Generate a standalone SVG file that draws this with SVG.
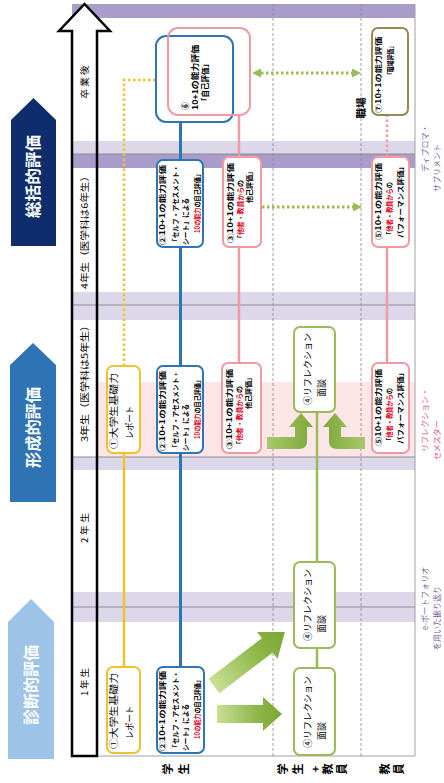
<svg xmlns="http://www.w3.org/2000/svg" width="444" height="783" viewBox="0 0 444 783">
<defs>
<style>
text{font-family:"Noto Sans CJK JP","Noto Sans",sans-serif;fill:#000}
.nb{font-size:7px;font-weight:700}
.n1{font-size:9px}
.n4{font-size:9px}
.n6{font-size:8px;font-weight:700}
.red{fill:#e3001b}
.yr{font-size:9.5px}
.big{font-size:16px;font-weight:700;fill:#fff}
.row{font-size:11px;font-weight:700;text-anchor:middle}
.side{font-size:8px}
.pu{fill:#8064a2}
.pk{fill:#e8528e}
.box{fill:#fff;stroke-width:2}
.by{stroke:#f2c12e}.bb{stroke:#2e75b6}.bp{stroke:#f29aa3}.bg{stroke:#9bbb59}.bo{stroke:#948a54}
.ly{stroke:#f2c12e;stroke-width:2.5;fill:none}
.lb{stroke:#2e75b6;stroke-width:3;fill:none}
.lp{stroke:#f29aa3;stroke-width:2.5;fill:none}
.lg{stroke:#9bbb59;stroke-width:2.5;fill:none}
.dot{stroke-dasharray:2.5 2.5}
.gd{stroke:#9bbb59;stroke-width:3;stroke-dasharray:2.5 2.5;fill:none;marker-start:url(#gh);marker-end:url(#gh)}
.sep{stroke:#888;stroke-width:0.8;stroke-dasharray:3 2;fill:none}
.bl{stroke:#8c8c8c;stroke-width:1}
.lav{fill:#dcd8ea}.pur{fill:#a99bca}.pnk{fill:#fde6e8}
</style>
<marker id="gh" viewBox="0 0 10 10" refX="0" refY="5" markerWidth="9" markerHeight="10" markerUnits="userSpaceOnUse" orient="auto-start-reverse"><path d="M0,0 L10,5 L0,10 z" fill="#9bbb59"/></marker>
<linearGradient id="gg" x1="0" y1="0" x2="1" y2="0"><stop offset="0" stop-color="#c9df96"/><stop offset="0.6" stop-color="#8db84a"/><stop offset="1" stop-color="#7aa635"/></linearGradient>
<linearGradient id="gb" x1="0" y1="0" x2="0" y2="1"><stop offset="0" stop-color="#7ea83a"/><stop offset="1" stop-color="#a8c96a"/></linearGradient>
<linearGradient id="gb2" x1="0" y1="1" x2="0" y2="0"><stop offset="0" stop-color="#7ea83a"/><stop offset="1" stop-color="#a8c96a"/></linearGradient>
</defs>
<rect width="444" height="783" fill="#fff"/>
<g transform="translate(0,783) rotate(-90)">
  <g id="bands">
    <rect x="765" y="72" width="14" height="343" class="pur"/>
    <rect x="629" y="72" width="13" height="343" class="lav"/>
    <rect x="615" y="72" width="14" height="343" class="pur"/>
    <rect x="463" y="72" width="28" height="343" class="lav"/>
    <rect x="326" y="97" width="75" height="318" class="pnk"/>
    <rect x="313" y="72" width="13" height="343" class="lav"/>
    <rect x="161" y="72" width="30" height="343" class="lav"/>
    <line x1="629" y1="72" x2="629" y2="415" class="bl"/>
    <line x1="478" y1="72" x2="478" y2="415" class="bl"/>
    <line x1="326" y1="72" x2="326" y2="415" class="bl"/>
    <line x1="176" y1="72" x2="176" y2="415" class="bl"/>
    <line x1="27" y1="97" x2="27" y2="415" stroke="#a0a0a0" stroke-width="1"/>
    <line x1="27" y1="415" x2="779" y2="415" stroke="#a0a0a0" stroke-width="1"/>
    <line x1="27" y1="273" x2="779" y2="273" class="sep"/>
    <line x1="27" y1="361" x2="779" y2="361" class="sep"/>
  </g>
  <g id="axis">
    <polygon points="752,59 779,84.5 752,110" fill="#fff"/>
    <polygon points="27,72 752,72 752,59 779,84.5 752,110 752,97 27,97" fill="none" stroke="#000" stroke-width="2.5" stroke-linejoin="miter"/>
    <text class="yr" x="684.5" y="88" textLength="33" lengthAdjust="spacing">卒業後</text>
    <text class="yr" x="494" y="88" textLength="118" lengthAdjust="spacingAndGlyphs">4年生（医学科は6年生）</text>
    <text class="yr" x="341" y="88" textLength="122" lengthAdjust="spacingAndGlyphs">3年生（医学科は5年生）</text>
    <text class="yr" x="240" y="88" textLength="30" lengthAdjust="spacing">2年生</text>
    <text class="yr" x="87" y="88" textLength="28" lengthAdjust="spacing">1年生</text>
  </g>
  <g id="phase-summative">
    <polygon points="537,11 663,11 685,33.5 663,56 537,56" fill="#0f2d6c"/>
    <text class="big" x="565" y="39" textLength="83" lengthAdjust="spacingAndGlyphs">総括的評価</text>
  </g>
  <g id="phase-formative">
    <polygon points="281,10 418,10 440,33 418,56 281,56" fill="#2e74b5"/>
    <text class="big" x="315" y="39" textLength="81" lengthAdjust="spacingAndGlyphs">形成的評価</text>
  </g>
  <g id="phase-diagnostic">
    <polygon points="24,8 161,8 184,31 161,54 24,54" fill="#9dc3e6"/>
    <text class="big" x="58" y="37" textLength="80" lengthAdjust="spacingAndGlyphs">診断的評価</text>
  </g>
  <g id="connectors">
    <line x1="116" y1="124" x2="330" y2="124" class="ly"/>
    <polyline points="417,124 703,124 703,156" class="ly dot"/>
    <line x1="116" y1="180.5" x2="661" y2="180.5" class="lb"/>
    <line x1="420" y1="239" x2="668" y2="239" class="lp"/>
    <line x1="420" y1="387" x2="536" y2="387" class="lp"/>
    <line x1="626" y1="387" x2="668" y2="387" class="lp dot"/>
    <line x1="115" y1="317" x2="371" y2="317" class="lg"/>
    <line x1="710" y1="261" x2="710" y2="352" class="gd"/>
    <line x1="576" y1="262" x2="576" y2="353" class="gd"/>
    <polygon points="0,-9 46,-9 46,-17 65,0 46,17 46,9 0,9" transform="translate(69,217) rotate(90)" fill="url(#gg)"/>
    <polygon points="0,-9 67,-9 67,-17 89,0 67,17 67,9 0,9" transform="translate(97,214) rotate(52.7)" fill="url(#gg)"/>
    <path d="M334,267 L334,299 Q334,307 342,307 L356,307 L356,313 L370,301 L356,289 L356,295 L346,295 L346,267 Z" fill="url(#gb2)"/>
    <path d="M334,365 L334,337 Q334,329 342,329 L356,329 L356,323 L370,335 L356,347 L356,341 L346,341 L346,365 Z" fill="url(#gb)"/>
  </g>
  <g id="node-1a">
    <rect x="330" y="107" width="87" height="33" rx="6" class="box by"/>
    <text class="n1" x="334" y="116.5" textLength="76" lengthAdjust="spacingAndGlyphs">①大学生基礎力</text>
    <text class="n1" x="344" y="133" textLength="33" lengthAdjust="spacingAndGlyphs">レポート</text>
  </g>
  <g id="node-1b">
    <rect x="30" y="107" width="86" height="33" rx="6" class="box by"/>
    <text class="n1" x="34" y="116.5" textLength="76" lengthAdjust="spacingAndGlyphs">①大学生基礎力</text>
    <text class="n1" x="44" y="133" textLength="33" lengthAdjust="spacingAndGlyphs">レポート</text>
  </g>
  <g id="node-2a">
    <rect x="536" y="157" width="87" height="46" rx="6" class="box bb"/>
    <text class="nb" x="538" y="164.5" textLength="80" lengthAdjust="spacingAndGlyphs">②10+1の能力評価</text>
    <text class="nb" x="538" y="177.5" textLength="80" lengthAdjust="spacingAndGlyphs">「セルフ・アセスメント・</text>
    <text class="nb" x="538" y="187.5" textLength="47" lengthAdjust="spacingAndGlyphs">シート」による</text>
    <text class="nb" x="550" y="199.5" textLength="62" lengthAdjust="spacingAndGlyphs"><tspan class="red">10の能力</tspan>の自己評価」</text>
  </g>
  <g id="node-2b">
    <rect x="330" y="157" width="87" height="46" rx="6" class="box bb"/>
    <text class="nb" x="332" y="164.5" textLength="80" lengthAdjust="spacingAndGlyphs">②10+1の能力評価</text>
    <text class="nb" x="332" y="177.5" textLength="80" lengthAdjust="spacingAndGlyphs">「セルフ・アセスメント・</text>
    <text class="nb" x="332" y="187.5" textLength="47" lengthAdjust="spacingAndGlyphs">シート」による</text>
    <text class="nb" x="344" y="199.5" textLength="62" lengthAdjust="spacingAndGlyphs"><tspan class="red">10の能力</tspan>の自己評価」</text>
  </g>
  <g id="node-2c">
    <rect x="30" y="157" width="86" height="47" rx="6" class="box bb"/>
    <text class="nb" x="32" y="164.5" textLength="80" lengthAdjust="spacingAndGlyphs">②10+1の能力評価</text>
    <text class="nb" x="32" y="177.5" textLength="80" lengthAdjust="spacingAndGlyphs">「セルフ・アセスメント・</text>
    <text class="nb" x="32" y="187.5" textLength="47" lengthAdjust="spacingAndGlyphs">シート」による</text>
    <text class="nb" x="44" y="199.5" textLength="62" lengthAdjust="spacingAndGlyphs"><tspan class="red">10の能力</tspan>の自己評価」</text>
  </g>
  <g id="node-6">
    <rect x="661" y="156" width="86" height="77" rx="10" class="box bb"/>
    <rect x="668" y="168" width="87" height="82" rx="10" fill="none" stroke-width="2" class="bp"/>
    <text class="n6" x="673" y="188">⑥</text>
    <text class="n6" x="673" y="198" textLength="65" lengthAdjust="spacingAndGlyphs">10+1の能力評価</text>
    <text class="n6" x="678" y="208" textLength="45" lengthAdjust="spacingAndGlyphs">「自己評価」</text>
  </g>
  <g id="node-3a">
    <rect x="536" y="223" width="90" height="38" rx="6" class="box bp"/>
    <text class="nb" x="540" y="232.5" textLength="80" lengthAdjust="spacingAndGlyphs">③10+1の能力評価</text>
    <text class="nb" x="541" y="242.5" textLength="62" lengthAdjust="spacingAndGlyphs">「<tspan class="red">他者・教員から</tspan>の</text>
    <text class="nb" x="580" y="251.5" textLength="35" lengthAdjust="spacingAndGlyphs">他己評価」</text>
  </g>
  <g id="node-3b">
    <rect x="330" y="222" width="90" height="39" rx="6" class="box bp"/>
    <text class="nb" x="334" y="231.5" textLength="80" lengthAdjust="spacingAndGlyphs">③10+1の能力評価</text>
    <text class="nb" x="335" y="241.5" textLength="62" lengthAdjust="spacingAndGlyphs">「<tspan class="red">他者・教員から</tspan>の</text>
    <text class="nb" x="374" y="250.5" textLength="35" lengthAdjust="spacingAndGlyphs">他己評価」</text>
  </g>
  <g id="node-5a">
    <rect x="536" y="372" width="90" height="37" rx="6" class="box bp"/>
    <text class="nb" x="543" y="380.5" textLength="77" lengthAdjust="spacingAndGlyphs">⑤10+1の能力評価</text>
    <text class="nb" x="545" y="391.5" textLength="56" lengthAdjust="spacingAndGlyphs">「<tspan class="red">他者・教員から</tspan>の</text>
    <text class="nb" x="545" y="402.5" textLength="75" lengthAdjust="spacingAndGlyphs">パフォーマンス評価」</text>
  </g>
  <g id="node-5b">
    <rect x="330" y="372" width="90" height="37" rx="6" class="box bp"/>
    <text class="nb" x="337" y="380.5" textLength="77" lengthAdjust="spacingAndGlyphs">⑤10+1の能力評価</text>
    <text class="nb" x="339" y="391.5" textLength="56" lengthAdjust="spacingAndGlyphs">「<tspan class="red">他者・教員から</tspan>の</text>
    <text class="nb" x="339" y="402.5" textLength="75" lengthAdjust="spacingAndGlyphs">パフォーマンス評価」</text>
  </g>
  <g id="node-7">
    <rect x="668" y="372" width="87" height="36" rx="6" class="box bo"/>
    <text class="nb" x="670" y="380.5" textLength="76" lengthAdjust="spacingAndGlyphs">⑦10+1の能力評価</text>
    <text class="nb" x="705" y="392.5" textLength="35" lengthAdjust="spacingAndGlyphs">「職場評価」</text>
  </g>
  <g id="node-4a">
    <rect x="371" y="294" width="85" height="41" rx="6" class="box bg"/>
    <text class="n4" x="378" y="311">④リフレクション</text>
    <text class="n4" x="386" y="325">面談</text>
  </g>
  <g id="node-4b">
    <rect x="135" y="294" width="86" height="41" rx="6" class="box bg"/>
    <text class="n4" x="142" y="311">④リフレクション</text>
    <text class="n4" x="150" y="325">面談</text>
  </g>
  <g id="node-4c">
    <rect x="28" y="294" width="87" height="41" rx="6" class="box bg"/>
    <text class="n4" x="35" y="311">④リフレクション</text>
    <text class="n4" x="43" y="325">面談</text>
  </g>
  <g id="labels">
    <text x="675" y="365" font-size="10.5" font-weight="700" text-anchor="middle">職場</text>
    <text class="row" x="14" y="172">学</text>
    <text class="row" x="14" y="188">生</text>
    <text class="row" x="14" y="287">学</text>
    <text class="row" x="14" y="302">生</text>
    <text class="row" x="14" y="320">+</text>
    <text class="row" x="14" y="332">教</text>
    <text class="row" x="14" y="346">員</text>
    <text class="row" x="14" y="389">教</text>
    <text class="row" x="14" y="403">員</text>
    <text class="side pu" x="611" y="428">ディプロマ・</text>
    <text class="side pu" x="591" y="440">サプリメント</text>
    <text class="side pk" x="331" y="428">リフレクション・</text>
    <text class="side pk" x="323" y="440">セメスター</text>
    <text class="side pu" x="153" y="428">e-ポートフォリオ</text>
    <text class="side pu" x="133" y="440">を用いた振り返り</text>
  </g>
</g>
</svg>
